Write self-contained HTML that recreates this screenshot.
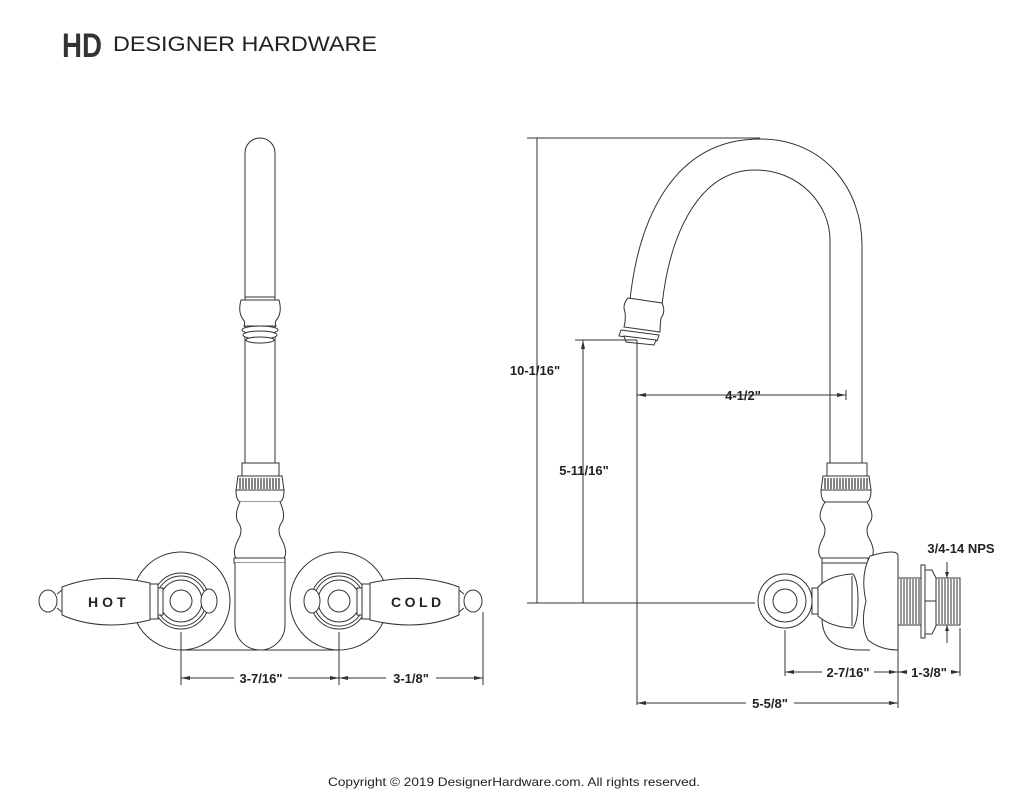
<!DOCTYPE html>
<html><head><style>
html,body{margin:0;padding:0;background:#fff;}
svg{display:block;}
text{font-family:"Liberation Sans",Arial,sans-serif;}
.d{font-size:13px;font-weight:bold;fill:#222;}
</style></head><body>
<svg width="1024" height="791" viewBox="0 0 1024 791" xmlns="http://www.w3.org/2000/svg">
<rect width="1024" height="791" fill="#fff"/>
<!-- logo -->
<text x="62" y="57" font-family="Liberation Serif" font-size="34" font-weight="bold" fill="#333" textLength="40" lengthAdjust="spacingAndGlyphs">HD</text>
<text x="113" y="51" font-size="21" fill="#222" textLength="264" lengthAdjust="spacingAndGlyphs">DESIGNER HARDWARE</text>

<g fill="none" stroke="#333" stroke-width="1">
<!-- escutcheons -->
<circle cx="181" cy="601" r="49" fill="#fff"/>
<circle cx="339" cy="601" r="49" fill="#fff"/>
<path d="M181,650 L339,650"/>
<!-- LEFT VIEW spout -->
<path d="M245,463 L245,153 A15,15 0 0 1 275,153 L275,463"/>
<path d="M245,297 L275,297 M241,300 Q238,310 242,318 Q246,322 244,326 L276,326 Q274,322 278,318 Q282,310 279,300 Z" fill="#fff"/>
<ellipse cx="260" cy="330" rx="18" ry="4" fill="#fff"/>
<ellipse cx="260" cy="335" rx="17" ry="4" fill="#fff"/>
<ellipse cx="260" cy="340" rx="14" ry="3" fill="#fff"/>
<rect x="242" y="463" width="37" height="13" fill="#fff"/>
<path d="M238,476 L282,476 L284,490 L236,490 Z" fill="#fff"/>
<path d="M240,478 v11 M243,478 v11 M246,478 v11 M249,478 v11 M252,478 v11 M255,478 v11 M258,478 v11 M261,478 v11 M264,478 v11 M267,478 v11 M270,478 v11 M273,478 v11 M276,478 v11 M279,478 v11" stroke-width="1.2"/>
<path d="M236,490 Q236,500 240,502 L280,502 Q284,500 284,490"/>
<path d="M240,502 Q234,515 238,522 Q244,530 238,540 Q232,552 236,558 L284,558 Q288,552 282,540 Q276,530 282,522 Q286,515 280,502" fill="#fff"/>
<rect x="234" y="558" width="51" height="5" fill="#fff"/>
<path d="M235,563 L235,625 A25,25 0 0 0 285,625 L285,563" fill="#fff"/>
<circle cx="181" cy="601" r="28"/><circle cx="181" cy="601" r="25"/><circle cx="181" cy="601" r="21"/><circle cx="181" cy="601" r="11"/>
<circle cx="339" cy="601" r="28"/><circle cx="339" cy="601" r="25"/><circle cx="339" cy="601" r="21"/><circle cx="339" cy="601" r="11"/>
<ellipse cx="209" cy="601" rx="8" ry="12" fill="#fff"/>
<ellipse cx="312" cy="601" rx="8" ry="12" fill="#fff"/>
<!-- HOT handle -->
<ellipse cx="48" cy="601" rx="9" ry="11" fill="#fff"/>
<path d="M57,594 L62,590 L62,612 L57,608"/>
<path d="M62,587 Q100,572 150,583 L150,620 Q100,632 62,615 Z" fill="#fff"/>
<rect x="150" y="584" width="8" height="35" fill="#fff"/>
<rect x="158" y="588" width="5" height="27" fill="#fff"/>
<!-- COLD handle -->
<ellipse cx="473" cy="601" rx="9" ry="11" fill="#fff"/>
<path d="M464,594 L459,590 L459,612 L464,608"/>
<path d="M459,587 Q420,572 370,583 L370,620 Q420,632 459,615 Z" fill="#fff"/>
<rect x="362" y="584" width="8" height="35" fill="#fff"/>
<rect x="357" y="588" width="5" height="27" fill="#fff"/>
<!-- left dims -->
<path d="M181,632 V685 M339,632 V685 M483,612 V685 M181,678 H234 M288,678 H339 M339,678 H386 M436,678 H483"/>

<!-- RIGHT VIEW -->
<path d="M527,138 H760 M537,138 V603 M527,603 H755"/>
<path d="M630,300 C638,225 670,139 760,139 C825,139 862,190 862,245 L862,465"/>
<path d="M662,305 C670,232 700,170 755,170 C800,170 830,205 830,240 L830,465"/>
<path d="M628,298 L662,303 Q666,312 661,318 Q660,325 660,332 L624,327 Q626,320 625,312 Q622,305 628,298 Z" fill="#fff"/>
<path d="M621,330 L659,335 L657,341 L619,336 Z" fill="#fff"/>
<path d="M624,336 L656,340 L654,345 L626,342 Z" fill="#fff"/>
<path d="M575,340 H637 M583,340 V603 M637,340 V705 M637,395 H846 M846,390 V400"/>
<rect x="827" y="463" width="40" height="13" fill="#fff"/>
<path d="M823,476 L869,476 L871,490 L821,490 Z" fill="#fff"/>
<path d="M825,478 v11 M828,478 v11 M831,478 v11 M834,478 v11 M837,478 v11 M840,478 v11 M843,478 v11 M846,478 v11 M849,478 v11 M852,478 v11 M855,478 v11 M858,478 v11 M861,478 v11 M864,478 v11 M867,478 v11" stroke-width="1.2"/>
<path d="M821,490 Q821,500 825,502 L867,502 Q871,500 871,490"/>
<path d="M825,502 Q817,515 822,522 Q828,530 822,540 Q816,552 821,558 L871,558 Q876,552 870,540 Q864,530 870,522 Q875,515 867,502"/>
<path d="M822,558 L868,558 L868,563 L822,563 Z" fill="#fff"/>
<path d="M822,563 L822,618 Q822,650 860,650 L870,650"/>
<path d="M870,556 Q898,548 898,556 L898,650 Q880,650 868,640 Q860,625 866,601 Q860,575 870,556 Z" fill="#fff"/>
<path d="M818,587 Q830,575 853,574 Q858,580 858,601 Q858,622 853,628 Q830,627 818,616 Z" fill="#fff"/>
<path d="M852,576 V626"/>
<rect x="812" y="588" width="6" height="26" fill="#fff"/>
<circle cx="785" cy="601" r="27" fill="#fff"/><circle cx="785" cy="601" r="21"/><circle cx="785" cy="601" r="12"/>
<rect x="898" y="578" width="23" height="47" fill="#fff"/>
<path d="M901,579 v45 M904,579 v45 M907,579 v45 M910,579 v45 M913,579 v45 M916,579 v45 M919,579 v45"/>
<rect x="921" y="565" width="4" height="73" fill="#fff"/>
<path d="M925,570 L932,570 L936,578 L936,626 L932,634 L925,634 Z M925,601 H936" fill="#fff"/>
<rect x="936" y="578" width="24" height="47" fill="#fff"/>
<path d="M939,579 v45 M942,579 v45 M945,579 v45 M948,579 v45 M951,579 v45 M954,579 v45 M957,579 v45"/>
<path d="M947,562 V578 M947,625 V643"/>
<path d="M785,630 V676 M898,650 V708 M960,628 V676 M785,672 H822 M874,672 H906 M952,672 H960 M637,703 H746 M794,703 H898"/>
</g>
<g fill="#333">
<path d="M181,678 l9,-2 v4 z M339,678 l-9,-2 v4 z M339,678 l9,-2 v4 z M483,678 l-9,-2 v4 z"/>
<path d="M583,340 l-2,9 h4 z M637,395 l9,-2 v4 z M846,395 l-9,-2 v4 z"/>
<path d="M785,672 l9,-2 v4 z M898,672 l-9,-2 v4 z M898,672 l9,-2 v4 z M960,672 l-9,-2 v4 z M637,703 l9,-2 v4 z M898,703 l-9,-2 v4 z M947,578 l-2,-6 h4 z M947,625 l-2,6 h4 z"/>
</g>
<text x="88" y="607" font-size="14" font-weight="bold" fill="#222" letter-spacing="4">HOT</text>
<text x="391" y="607" font-size="14" font-weight="bold" fill="#222" letter-spacing="3.5">COLD</text>
<text class="d" x="261" y="683" text-anchor="middle">3-7/16"</text>
<text class="d" x="411" y="683" text-anchor="middle">3-1/8"</text>
<text class="d" x="535" y="375" text-anchor="middle">10-1/16"</text>
<text class="d" x="584" y="475" text-anchor="middle">5-11/16"</text>
<text class="d" x="743" y="400" text-anchor="middle">4-1/2"</text>
<text class="d" x="961" y="553" text-anchor="middle">3/4-14 NPS</text>
<text class="d" x="848" y="677" text-anchor="middle">2-7/16"</text>
<text class="d" x="929" y="677" text-anchor="middle">1-3/8"</text>
<text class="d" x="770" y="708" text-anchor="middle">5-5/8"</text>
<text x="514" y="786" font-size="12" fill="#222" text-anchor="middle" textLength="372" lengthAdjust="spacingAndGlyphs">Copyright © 2019 DesignerHardware.com. All rights reserved.</text>
</svg>
</body></html>
